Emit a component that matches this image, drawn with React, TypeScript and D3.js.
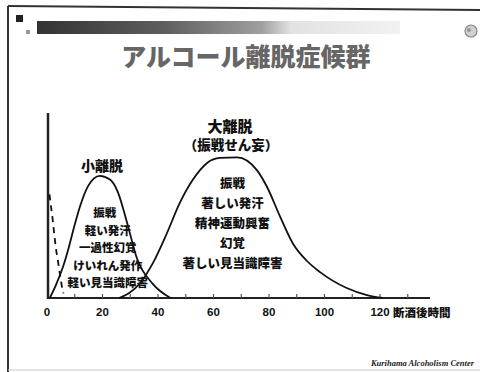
import React from "react";
import * as d3 from "d3";

// Hours after the last drink (x) and relative intensity (y, 0–100)
const earlyHours = [0.9, 1.4, 2.0, 2.5, 3.2, 4.0, 4.7, 5.4, 5.9];
const earlyLevel = [56, 50, 43, 36, 27, 19.5, 12.5, 6, 2.5];

const minorHours = [1, 3.2, 5.8, 7.6, 9.7, 12, 14.8, 19, 22.7, 25.6, 28.8, 32.4, 38.2, 44.5];
const minorLevel = [0, 7, 17, 26, 38, 50, 60.5, 66, 64, 57, 41, 21.5, 7.5, 0];

const majorHours = [26, 33.5, 38.2, 43.2, 47.9, 52.6, 57.7, 62.3, 68.5, 75.7, 79.3, 84, 88.6, 93.7, 98.4, 108, 115.3, 121];
const majorLevel = [0, 8, 19, 35, 51.5, 64, 73, 75.7, 76, 69, 60, 44, 29.5, 20, 14, 5.4, 1.6, 0];

const tickHours = [0, 20, 40, 60, 80, 100, 120];
const minorTickHours = [10, 20, 30, 40, 50, 60, 70, 80, 90, 100, 110, 120, 130];

const minorSymptoms = ["振戦", "軽い発汗", "一過性幻覚", "けいれん発作", "軽い見当識障害"];
const majorSymptoms = ["振戦", "著しい発汗", "精神運動興奮", "幻覚", "著しい見当識障害"];

const W = 480;
const H = 372;
const JP = '"Noto Sans CJK JP", "Noto Sans", sans-serif';

export default function App() {
  const x = d3.scaleLinear().domain([0, 120]).range([47, 380]);
  const y = d3.scaleLinear().domain([0, 100]).range([298, 113]);

  const line = d3
    .line<[number, number]>()
    .x((d) => x(d[0]))
    .y((d) => y(d[1]))
    .curve(d3.curveMonotoneX);

  const zip = (a: number[], b: number[]) => a.map((v, i) => [v, b[i]] as [number, number]);

  const earlyPath = line(zip(earlyHours, earlyLevel)) || "";
  const minorPath = line(zip(minorHours, minorLevel)) || "";
  const majorPath = line(zip(majorHours, majorLevel)) || "";

  const minorCx = x(21.5);
  const majorCx = x(66.5);

  return (
    <svg
      width={W}
      height={H}
      viewBox={`0 0 ${W} ${H}`}
      style={{ position: "fixed", left: 0, top: 0, background: "#fff" }}
    >
      <defs>
        <linearGradient id="hdr" x1="0" x2="1" y1="0" y2="0">
          <stop offset="0" stopColor="#333" />
          <stop offset="0.35" stopColor="#5e5e5e" />
          <stop offset="0.62" stopColor="#a0a0a0" />
          <stop offset="0.7" stopColor="#e2e2e2" />
          <stop offset="1" stopColor="#f2f2f2" />
        </linearGradient>
      </defs>

      {/* slide frame */}
      <line x1={8} y1={6} x2={W} y2={10} stroke="#333" strokeWidth={2} />
      <line x1={8} y1={6} x2={8} y2={H} stroke="#333" strokeWidth={2} />
      <line x1={8} y1={370} x2={W} y2={370} stroke="#c8c8c8" strokeWidth={1.2} />

      {/* header band */}
      <rect x={16} y={15} width={7} height={7} fill="#222" />
      <rect x={26} y={30} width={4} height={4} fill="#999" />
      <rect x={37} y={21} width={363} height={13} fill="url(#hdr)" />
      <circle cx={471} cy={31} r={6} fill="#d0d0d0" stroke="#888" strokeWidth={1.2} />
      <circle cx={469} cy={30} r={2} fill="#999" />

      {/* title */}
      <text
        x={246}
        y={66}
        textAnchor="middle"
        fontFamily={JP}
        fontWeight={900}
        fontSize={25}
        fill="#666"
      >
        アルコール離脱症候群
      </text>

      {/* axes */}
      <line x1={x(0)} y1={y(0)} x2={430} y2={y(0)} stroke="#222" strokeWidth={2} />
      <line x1={x(0) + 1} y1={113} x2={x(0) + 1} y2={y(0) + 1} stroke="#222" strokeWidth={2.5} />
      {minorTickHours.map((h) => (
        <line key={h} x1={x(h)} x2={x(h)} y1={y(0)} y2={y(0) - 4} stroke="#555" strokeWidth={1.2} />
      ))}
      {tickHours.map((h) => (
        <text
          key={h}
          x={x(h)}
          y={316}
          textAnchor="middle"
          fontFamily='"Liberation Sans", Arial, sans-serif'
          fontWeight={700}
          fontSize={11.5}
          fill="#111"
        >
          {h}
        </text>
      ))}
      <text x={393} y={317} fontFamily={JP} fontWeight={900} fontSize={11.5} fill="#111">
        断酒後時間
      </text>

      {/* curves */}
      <path d={earlyPath} fill="none" stroke="#111" strokeWidth={1.8} strokeDasharray="6,5" />
      <path d={minorPath} fill="none" stroke="#111" strokeWidth={1.8} />
      <path d={majorPath} fill="none" stroke="#111" strokeWidth={1.8} />

      {/* minor withdrawal labels */}
      <text x={102} y={171} textAnchor="middle" fontFamily={JP} fontWeight={900} fontSize={14} fill="#111">
        小離脱
      </text>
      {minorSymptoms.map((s, i) => (
        <text
          key={s + i}
          x={minorCx + (i === 0 ? -2 : 1)}
          y={217 + i * 17.5}
          textAnchor="middle"
          fontFamily={JP}
          fontWeight={900}
          fontSize={11.5}
          fill="#111"
        >
          {s}
        </text>
      ))}

      {/* major withdrawal labels */}
      <text x={230} y={132} textAnchor="middle" fontFamily={JP} fontWeight={900} fontSize={15} fill="#111">
        大離脱
      </text>
      <text x={231} y={150} textAnchor="middle" fontFamily={JP} fontWeight={900} fontSize={13.5} fill="#111">
        （振戦せん妄）
      </text>
      {majorSymptoms.map((s, i) => (
        <text
          key={s + i}
          x={majorCx + 1}
          y={187.5 + i * 20}
          textAnchor="middle"
          fontFamily={JP}
          fontWeight={900}
          fontSize={12.5}
          fill="#111"
        >
          {s}
        </text>
      ))}

      {/* footer */}
      <text
        x={474}
        y={366}
        textAnchor="end"
        fontFamily='"Liberation Serif", serif'
        fontStyle="italic"
        fontWeight={700}
        fontSize={8.5}
        fill="#222"
      >
        Kurihama Alcoholism Center
      </text>
    </svg>
  );
}
